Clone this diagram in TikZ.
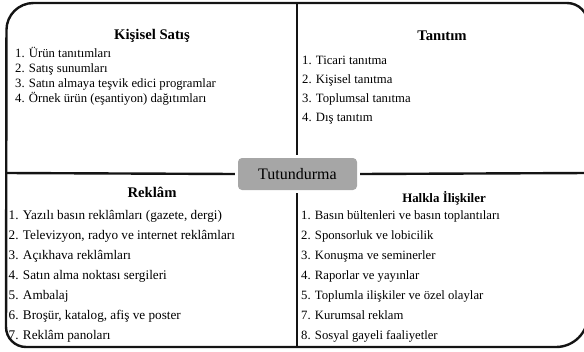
\documentclass[tikz,border=0pt]{standalone}
\usepackage{fontspec}
\setmainfont{Liberation Serif}
\usepackage{tikz}
\usetikzlibrary{positioning}
\definecolor{tutgray}{RGB}{166,166,166}
\definecolor{framegray}{RGB}{20,20,20}

\begin{document}
\begin{tikzpicture}[
    x=1pt, y=-1pt,
    frame/.style={draw=framegray, line width=2.4pt},
    center/.style={rectangle, rounded corners=4pt, fill=tutgray, minimum width=119pt, minimum height=32pt, font=\fontsize{16}{18}\selectfont},
    title/.style={inner sep=0pt, anchor=base, font=\fontsize{14.7}{17}\selectfont\bfseries},
    smalltitle/.style={inner sep=0pt, anchor=base, font=\fontsize{12.9}{15}\selectfont\bfseries},
    item/.style={inner sep=0pt, anchor=base west, font=\fontsize{12.7}{15}\selectfont}
]
\useasboundingbox (0,0) rectangle (584,351);
\clip (0,0) rectangle (584,351);

% outer frame
\draw[frame] (297,3) [rounded corners=27pt] -- (6.5,3) [rounded corners=20pt] -- (6,347)
    [rounded corners=32pt] -- (588,347) [rounded corners=21pt] -- (588,3) [sharp corners] -- cycle;

% middle box
\node[center] (tut) at (297.5,174) {Tutundurma};

\draw[frame] (297,3) -- ([yshift=3pt]tut.north -| 297,0);
\draw[frame] ([yshift=-3pt]tut.south -| 297,0) -- (297,347);
\draw[frame] (6,173) -- ([xshift=-3pt]tut.west);
\draw[frame] ([xshift=3pt]tut.east) -- (588,173);

% Kisisel Satis
\node[title] (satis) at (152,39) {Kişisel Satış};
\foreach \txt [count=\i] in {1. Ürün tanıtımları, 2. Satış sunumları,
    3. Satın almaya teşvik edici programlar, 4. Örnek ürün (eşantiyon) dağıtımları}
    \node[item] (satis\i) at (15,{57+15.3*(\i-1)}) {\txt};

% Tanitim
\node[title] (tanitim) at (442,40) {Tanıtım};
\foreach \txt [count=\i] in {1. Ticari tanıtma, 2. Kişisel tanıtma,
    3. Toplumsal tanıtma, 4. Dış tanıtım}
    \node[item] (tanitim\i) at (302,{64+19*(\i-1)}) {\txt};

% Reklam
\node[title] (reklam) at (152,197) {Reklâm};
\foreach \txt [count=\i] in {{1. Yazılı basın reklâmları (gazete, dergi)},
    {2. Televizyon, radyo ve internet reklâmları}, 3. Açıkhava reklâmları,
    4. Satın alma noktası sergileri, 5. Ambalaj,
    {6. Broşür, katalog, afiş ve poster}, 7. Reklâm panoları}
    \node[item, font=\fontsize{13.2}{15}\selectfont] (reklam\i) at (8.5,{219+20*(\i-1)}) {\txt};

% Halkla Iliskiler
\node[smalltitle] (halkla) at (444,202) {Halkla İlişkiler};
\foreach \txt [count=\i] in {1. Basın bültenleri ve basın toplantıları,
    2. Sponsorluk ve lobicilik, 3. Konuşma ve seminerler,
    4. Raporlar ve yayınlar, 5. Toplumla ilişkiler ve özel olaylar,
    7. Kurumsal reklam, 8. Sosyal gayeli faaliyetler}
    \node[item] (halkla\i) at (301,{219+20*(\i-1)}) {\txt};

\end{tikzpicture}
\end{document}
